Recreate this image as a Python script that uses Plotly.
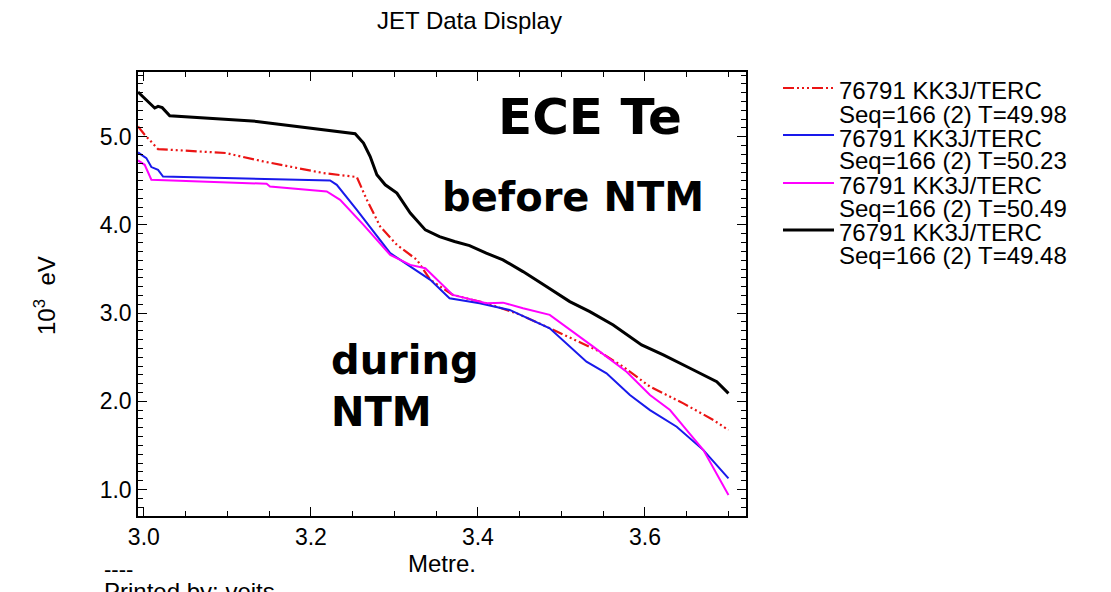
import plotly.graph_objects as go

# ---------------- data ----------------
series_names = ["76791 KK3J/TERC", "76791 KK3J/TERC", "76791 KK3J/TERC", "76791 KK3J/TERC"]
series_seq = ["Seq=166 (2) T=49.98", "Seq=166 (2) T=50.23", "Seq=166 (2) T=50.49", "Seq=166 (2) T=49.48"]

red_x = [2.993, 3.001, 3.017, 3.099, 3.107, 3.143, 3.215, 3.255, 3.267, 3.283, 3.303, 3.327,
         3.343, 3.370, 3.410, 3.446, 3.482, 3.542, 3.574, 3.606, 3.646, 3.682, 3.700]
red_y = [5.117, 5.023, 4.860, 4.815, 4.796, 4.720, 4.588, 4.543, 4.285, 3.982, 3.774, 3.604,
         3.377, 3.207, 3.112, 2.999, 2.847, 2.582, 2.393, 2.166, 1.977, 1.788, 1.674]

blue_x = [2.993, 3.003, 3.009, 3.017, 3.023, 3.223, 3.231, 3.255, 3.295, 3.343, 3.366, 3.402,
          3.438, 3.486, 3.530, 3.554, 3.582, 3.606, 3.638, 3.670, 3.700]
blue_y = [4.822, 4.758, 4.656, 4.625, 4.549, 4.504, 4.455, 4.172, 3.680, 3.377, 3.169, 3.112,
          3.036, 2.829, 2.449, 2.318, 2.072, 1.901, 1.712, 1.447, 1.126]

mag_x = [2.993, 3.001, 3.009, 3.147, 3.151, 3.219, 3.235, 3.263, 3.295, 3.319, 3.337, 3.370,
         3.410, 3.430, 3.454, 3.486, 3.538, 3.578, 3.606, 3.630, 3.650, 3.670, 3.700]
mag_y = [4.731, 4.682, 4.512, 4.467, 4.436, 4.379, 4.285, 4.001, 3.661, 3.547, 3.510, 3.207,
         3.112, 3.119, 3.056, 2.980, 2.620, 2.336, 2.072, 1.901, 1.674, 1.447, 0.937]

black_x = [2.993, 3.013, 3.017, 3.022, 3.031, 3.135, 3.253, 3.263, 3.271, 3.279, 3.289, 3.303,
           3.319, 3.337, 3.354, 3.372, 3.390, 3.410, 3.430, 3.454, 3.482, 3.510, 3.534, 3.562,
           3.596, 3.622, 3.654, 3.686, 3.700]
black_y = [5.507, 5.326, 5.344, 5.330, 5.238, 5.174, 5.034, 4.928, 4.776, 4.569, 4.455, 4.361,
           4.134, 3.944, 3.868, 3.812, 3.766, 3.680, 3.604, 3.471, 3.301, 3.131, 3.017, 2.866,
           2.639, 2.526, 2.375, 2.222, 2.091]

x_range = [2.993, 3.721]
y_range = [0.70, 5.734]

# ---------------- layout geometry ----------------
W, H = 1111, 592
PL, PR, PT, PB = 138, 746, 72, 516   # plot area in pixels

def px(xp):
    return (xp - PL) / (PR - PL)

def py(yp):
    return (PB - yp) / (PB - PT)

FONT = "Liberation Sans"
BOLDFONT = "DejaVu Sans"
RED = "rgb(235,20,20)"
BLUE = "rgb(25,25,235)"
MAG = "rgb(255,0,255)"
BLK = "black"

styles = [
    dict(color=RED, width=2.2, dash="11px,3px,2px,3px,2px,3px,2px,3px"),
    dict(color=BLUE, width=2.0, dash="solid"),
    dict(color=MAG, width=2.0, dash="solid"),
    dict(color=BLK, width=3.0, dash="solid"),
]
xs = [red_x, blue_x, mag_x, black_x]
ys = [red_y, blue_y, mag_y, black_y]

fig = go.Figure()
for i in range(4):
    fig.add_trace(go.Scatter(x=xs[i], y=ys[i], mode="lines", line=styles[i],
                             name=series_names[i] + " " + series_seq[i], showlegend=False))

axis_common = dict(
    showline=True, linecolor="black", linewidth=1.5, mirror="allticks",
    ticks="inside", ticklen=9, tickwidth=1.3, tickcolor="black",
    showgrid=False, zeroline=False,
    tickfont=dict(family=FONT, size=23, color="black"),
)

fig.update_xaxes(range=x_range, tick0=3.0, dtick=0.2, tickformat=".1f",
                 minor=dict(tick0=3.0, dtick=0.05, ticks="inside", ticklen=5, tickwidth=1.2,
                            tickcolor="black", showgrid=False),
                 **axis_common)
fig.update_yaxes(range=y_range, tick0=0, dtick=1.0, tickformat=".1f",
                 minor=dict(tick0=0, dtick=0.1, ticks="inside", ticklen=5, tickwidth=1.2,
                            tickcolor="black", showgrid=False),
                 **axis_common)

ann = []
# title
ann.append(dict(text="JET Data Display", x=px(469), y=py(21), xref="paper", yref="paper",
                showarrow=False, font=dict(family=FONT, size=24, color="black"),
                xanchor="center", yanchor="middle"))
# axis titles
ann.append(dict(text="Metre.", x=px(442), y=py(563), xref="paper", yref="paper",
                showarrow=False, font=dict(family=FONT, size=24, color="black"),
                xanchor="center", yanchor="middle"))
ann.append(dict(text="10<sup>3</sup>  eV", x=px(45), y=py(296), xref="paper", yref="paper",
                showarrow=False, textangle=-90, font=dict(family=FONT, size=24, color="black"),
                xanchor="center", yanchor="middle"))
# footer
ann.append(dict(text="----", x=px(102), y=py(569), xref="paper", yref="paper",
                showarrow=False, font=dict(family=FONT, size=22, color="black"),
                xanchor="left", yanchor="middle"))
ann.append(dict(text="Printed by: veits", x=px(102), y=py(576), xref="paper", yref="paper",
                showarrow=False, font=dict(family=FONT, size=24, color="black"),
                xanchor="left", yanchor="top"))
# in-plot labels
big = dict(family=BOLDFONT, size=50, color="black", weight="bold")
mid = dict(family=BOLDFONT, size=40, color="black", weight="bold")
ann.append(dict(text="<b>ECE Te</b>", x=3.534, y=5.227, xref="x", yref="y", showarrow=False,
                font=big, xanchor="center", yanchor="middle"))
ann.append(dict(text="<b>before NTM</b>", x=3.514, y=4.319, xref="x", yref="y", showarrow=False,
                font=mid, xanchor="center", yanchor="middle"))
ann.append(dict(text="<b>during</b>", x=3.222, y=2.469, xref="x", yref="y", showarrow=False,
                font=mid, xanchor="left", yanchor="middle"))
ann.append(dict(text="<b>NTM</b>", x=3.222, y=1.878, xref="x", yref="y", showarrow=False,
                font=mid, xanchor="left", yanchor="middle"))

# legend (manual, IDL style)
shapes = []
leg_line_y = [88, 135, 183, 230]
leg_text_y = [(90, 114), (138, 161), (185, 208), (232, 255)]
for i in range(4):
    shapes.append(dict(type="line", xref="paper", yref="paper",
                       x0=px(783), x1=px(834), y0=py(leg_line_y[i]), y1=py(leg_line_y[i]),
                       line=styles[i]))
    for t, yy in zip([series_names[i], series_seq[i]], leg_text_y[i]):
        ann.append(dict(text=t, x=px(837), y=py(yy), xref="paper", yref="paper",
                        showarrow=False, font=dict(family=FONT, size=24, color="black"),
                        xanchor="left", yanchor="middle"))

fig.update_layout(
    width=W, height=H,
    margin=dict(l=PL, r=W - PR, t=PT, b=H - PB, pad=0),
    paper_bgcolor="white", plot_bgcolor="white",
    annotations=ann, shapes=shapes, showlegend=False,
)

fig.write_html("out.html")
